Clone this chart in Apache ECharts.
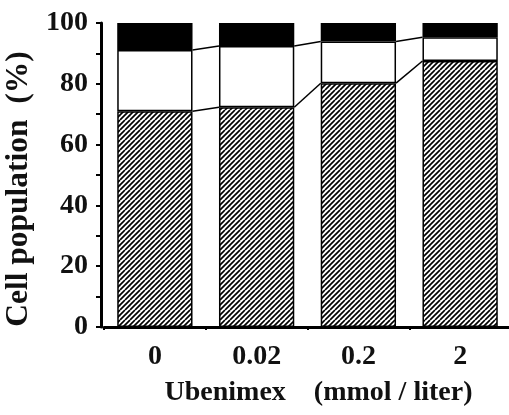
<!DOCTYPE html>
<html>
<head>
<meta charset="utf-8">
<script src="https://cdn.jsdelivr.net/npm/echarts@6/dist/echarts.min.js"></script>
<style>
  html, body { margin: 0; padding: 0; background: #fff; }
  #main { width: 509px; height: 415px; }
</style>
</head>
<body>
<div id="main"></div>
<script>
var doses = ['0', '0.02', '0.2', '2'];
var hatched = [71.0, 72.3, 80.2, 87.5];
var open = [20.1, 20.1, 13.7, 7.8];
var solid = [8.9, 7.6, 6.1, 4.7];
var yTicks = [0, 20, 40, 60, 80, 100];

var FONT = "'Liberation Serif', 'Times New Roman', serif";
var BAR_RATIO = 0.74;

// diagonal hatch tile
function hatchTile() {
  var c = document.createElement('canvas');
  var s = 10;
  c.width = s; c.height = s;
  var g = c.getContext('2d');
  g.fillStyle = '#fff';
  g.fillRect(0, 0, s, s);
  g.strokeStyle = '#000';
  g.lineWidth = 1.7;
  for (var k = -s; k <= s; k += s / 2) {
    g.beginPath();
    g.moveTo(k, s);
    g.lineTo(k + s, 0);
    g.stroke();
  }
  return c;
}

// tops of each segment, used for the joining lines
var top1 = hatched.slice();
var top2 = hatched.map(function (v, i) { return v + open[i]; });
var links = [];
for (var i = 0; i < doses.length - 1; i++) {
  links.push([i, top1[i], top1[i + 1], top2[i], top2[i + 1]]);
}

var myChart = echarts.init(document.getElementById('main'));

var option = {
  animation: false,
  backgroundColor: '#fff',
  grid: { left: 104, right: -2, top: 23, bottom: 88, outerBoundsMode: 'none' },
  xAxis: {
    type: 'category',
    data: doses,
    name: 'Ubenimex    (mmol / liter)',
    nameLocation: 'middle',
    nameGap: 52,
    nameTextStyle: { fontFamily: FONT, fontWeight: 'bold', fontSize: 28, color: '#111', padding: [0, 0, 0, 22] },
    axisLine: { lineStyle: { color: '#000', width: 3 } },
    axisTick: { show: true, length: 3, lineStyle: { color: '#000', width: 2 } },
    axisLabel: { fontFamily: FONT, fontWeight: 'bold', fontSize: 28, color: '#111', margin: 16 }
  },
  yAxis: {
    type: 'value',
    min: yTicks[0],
    max: yTicks[yTicks.length - 1],
    interval: 20,
    offset: 3,
    name: 'Cell population  (%)',
    nameLocation: 'middle',
    nameGap: 58,
    nameTextStyle: { fontFamily: FONT, fontWeight: 'bold', fontSize: 31.5, color: '#111', padding: [0, 28, 0, 0] },
    axisLine: { show: true, lineStyle: { color: '#000', width: 3 } },
    axisTick: { show: true, length: 5, lineStyle: { color: '#000', width: 2 } },
    minorTick: { show: true, splitNumber: 2, length: 5, lineStyle: { color: '#000', width: 2 } },
    splitLine: { show: false },
    axisLabel: { fontFamily: FONT, fontWeight: 'bold', fontSize: 28, color: '#111', margin: 13 }
  },
  series: [
    {
      type: 'bar', stack: 'all', data: hatched, barWidth: (BAR_RATIO * 100) + '%',
      itemStyle: { color: { image: hatchTile(), repeat: 'repeat' }, borderColor: '#000', borderWidth: 1.5 }
    },
    {
      type: 'bar', stack: 'all', data: open,
      itemStyle: { color: '#fff', borderColor: '#000', borderWidth: 1.5 }
    },
    {
      type: 'bar', stack: 'all', data: solid,
      itemStyle: { color: '#000', borderColor: '#000', borderWidth: 1.5 }
    },
    {
      type: 'custom',
      data: links,
      z: 5,
      renderItem: function (params, api) {
        var i = api.value(0);
        var half = api.size([1, 0])[0] * BAR_RATIO / 2;
        var a1 = api.coord([i, api.value(1)]);
        var b1 = api.coord([i + 1, api.value(2)]);
        var a2 = api.coord([i, api.value(3)]);
        var b2 = api.coord([i + 1, api.value(4)]);
        var st = { stroke: '#000', lineWidth: 1.5 };
        return {
          type: 'group',
          children: [
            { type: 'line', shape: { x1: a1[0] + half, y1: a1[1], x2: b1[0] - half, y2: b1[1] }, style: st },
            { type: 'line', shape: { x1: a2[0] + half, y1: a2[1], x2: b2[0] - half, y2: b2[1] }, style: st }
          ]
        };
      }
    }
  ]
};

myChart.setOption(option);
</script>
</body>
</html>
